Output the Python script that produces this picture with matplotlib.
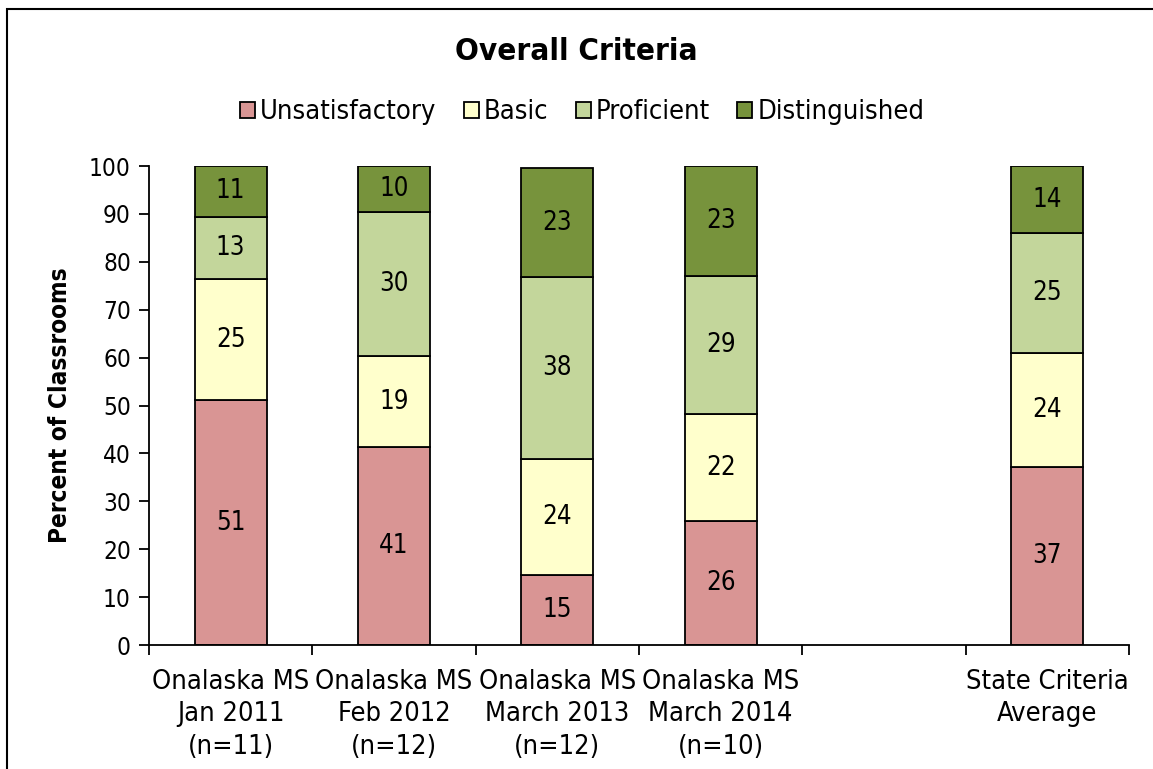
import matplotlib
matplotlib.use("Agg")
import matplotlib.pyplot as plt
from matplotlib.patches import Rectangle, Patch
import numpy as np

# --- data ---
categories = ["Onalaska MS\nJan 2011\n(n=11)", "Onalaska MS\nFeb 2012\n(n=12)",
              "Onalaska MS\nMarch 2013\n(n=12)", "Onalaska MS\nMarch 2014\n(n=10)",
              "", "State Criteria\nAverage"]
series = ["Unsatisfactory", "Basic", "Proficient", "Distinguished"]
unsatisfactory = [51.1, 41.3, 14.6, 25.9, None, 37.2]
basic = [25.3, 19.0, 24.2, 22.3, None, 23.8]
proficient = [13.0, 30.1, 38.0, 28.8, None, 25.0]
distinguished = [10.6, 9.6, 22.8, 23.0, None, 14.0]
colors = ["#D99594", "#FFFFCC", "#C3D69B", "#77933C"]

plt.rcParams['font.family'] = ['DejaVu Sans']
plt.rcParams['font.stretch'] = 'condensed'

fig = plt.figure(figsize=(11.53, 7.69), dpi=100)
ax = fig.add_axes([0.1292, 0.1612, 0.85, 0.6229])

x = np.arange(len(categories))
bottom = np.zeros(len(categories))
for name, vals, col in zip(series, [unsatisfactory, basic, proficient, distinguished], colors):
    for i, v in enumerate(vals):
        if v is None:
            continue
        ax.bar(x[i], v, bottom=bottom[i], width=0.44, color=col,
               edgecolor="black", linewidth=1.3, zorder=2)
        ax.text(x[i], bottom[i] + v / 2, f"{round(v):d}", ha="center", va="center",
                fontsize=18.5, zorder=3)
        bottom[i] += v

ax.set_xlim(-0.5, len(categories) - 0.5)
ax.set_ylim(0, 100)
ax.set_yticks(range(0, 101, 10))
ax.set_xticks(np.arange(-0.5, len(categories), 1.0))
ax.set_xticklabels([])
ax.set_xticks(x, minor=True)
ax.set_xticklabels(categories, minor=True, fontsize=19.5, linespacing=1.34)
ax.tick_params(axis="x", which="minor", length=0, pad=17)
ax.tick_params(axis="x", which="major", length=7, width=1.3, direction="out")
ax.tick_params(axis="y", length=7, width=1.3, direction="out", labelsize=17.5, pad=6)
for s in ["top", "right"]:
    ax.spines[s].set_visible(False)
for s in ["left", "bottom"]:
    ax.spines[s].set_linewidth(1.3)

ax.set_ylabel("Percent of Classrooms", fontsize=17.5, fontweight="bold", labelpad=12)

fig.text(0.5, 0.933, "Overall Criteria", ha="center", va="center",
         fontsize=22.5, fontweight="bold")

handles = [Patch(facecolor=c, edgecolor="black", linewidth=1.3, label=s) for s, c in zip(series, colors)]
fig.legend(handles=handles, loc="center", bbox_to_anchor=(0.505, 0.854), ncol=4,
           frameon=False, fontsize=19.5, handlelength=0.55, handleheight=0.55,
           handletextpad=0.2, columnspacing=1.0)

# outer chart border (cropped on right and bottom in the reference)
fig.patches.append(Rectangle((7 / 1153, -0.1), 1.2, 0.1 + 1 - 9 / 769,
                             transform=fig.transFigure, fill=False,
                             edgecolor="black", linewidth=1.5))

fig.savefig("out.png", dpi=100)
